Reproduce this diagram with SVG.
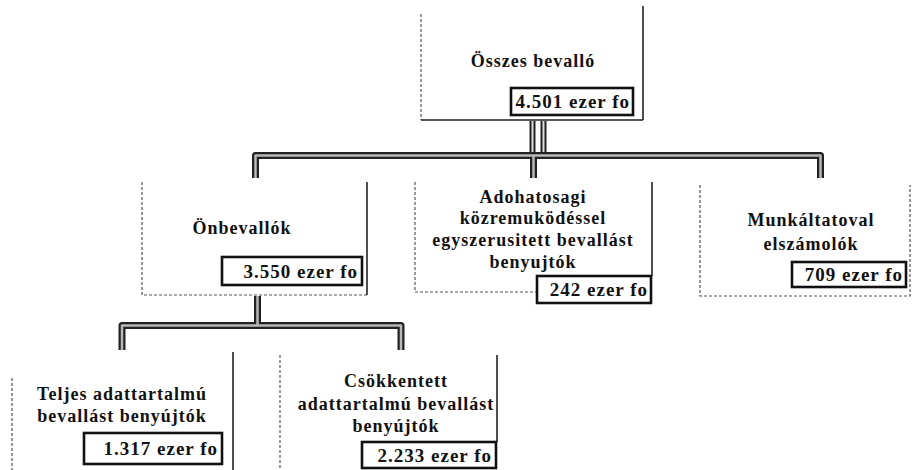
<svg xmlns="http://www.w3.org/2000/svg" width="912" height="470" viewBox="0 0 912 470">
<style>
.bg{fill:#fff}
.ed{fill:none;stroke:#555;stroke-width:1.2;stroke-dasharray:3 2}
.es{fill:none;stroke:#222;stroke-width:1.6}
.vb{fill:#fff;stroke:#111;stroke-width:2.6}
.t{font-family:"Liberation Serif","Times New Roman",serif;font-weight:bold;font-size:18px;letter-spacing:1px;fill:#111;text-anchor:middle}
.v{font-family:"Liberation Serif","Times New Roman",serif;font-weight:bold;font-size:19px;letter-spacing:1px;fill:#111;text-anchor:end}
.po{fill:none;stroke:#222;stroke-width:7;stroke-linejoin:round}
.pi{fill:none;stroke:#b8b8b8;stroke-width:2.5;stroke-linejoin:round}
.so{fill:none;stroke:#222;stroke-width:6}
.si{fill:none;stroke:#ddd;stroke-width:2}
</style>
<rect class="bg" x="0" y="0" width="912" height="470"/>
<g id="connectors">
<path class="so" d="M532.5 121 V155"/>
<path class="si" d="M532.5 121 V155"/>
<path class="so" d="M543.5 121 V155"/>
<path class="si" d="M543.5 121 V155"/>
<path class="po" d="M255.5 178 V155.5 H820.5 V178 M533.5 155.5 V178"/>
<path class="pi" d="M255.5 178 V155.5 H820.5 V178 M533.5 155.5 V178"/>
<path class="po" d="M257.5 296 V325.5 M122 350 V325.5 H401 V350"/>
<path class="pi" d="M257.5 296 V325.5 M122 350 V325.5 H401 V350"/>
</g>
<g id="node-osszes">
<path class="ed" d="M421 14 V120"/>
<path class="es" d="M421 120 H643 M643 6 V120"/>
<text class="t" x="533" y="67">Összes bevalló</text>
<rect class="vb" x="511" y="88" width="122" height="27"/>
<text class="v" x="630" y="108">4.501 ezer  fo</text>
</g>
<g id="node-onbevallok">
<path class="ed" d="M142 182 V295 H367"/>
<path class="es" d="M367 182 V295"/>
<text class="t" x="242" y="234">Önbevallók</text>
<rect class="vb" x="222" y="257" width="140" height="28"/>
<text class="v" x="358" y="278">3.550 ezer  fo</text>
</g>
<g id="node-adohatosagi">
<path class="ed" d="M415 182 V292 H537"/>
<path class="es" d="M652 182 V276"/>
<text class="t" x="533" y="203">Adohatosagi</text>
<text class="t" x="533" y="224">közremuködéssel</text>
<text class="t" x="533" y="246">egyszerusitett bevallást</text>
<text class="t" x="533" y="268">benyujtók</text>
<rect class="vb" x="537" y="276" width="114" height="27"/>
<text class="v" x="648" y="296">242 ezer  fo</text>
</g>
<g id="node-munkaltatoval">
<path class="ed" d="M700 185 V296 H910 V185"/>
<text class="t" x="811" y="226">Munkáltatoval</text>
<text class="t" x="811" y="250">elszámolók</text>
<rect class="vb" x="792" y="262" width="114" height="25"/>
<text class="v" x="903" y="281">709 ezer  fo</text>
</g>
<g id="node-teljes">
<path class="ed" d="M12 378 V470"/>
<path class="es" d="M233 352 V470"/>
<text class="t" x="122" y="400">Teljes adattartalmú</text>
<text class="t" x="122" y="422">bevallást benyújtók</text>
<rect class="vb" x="84" y="433" width="138" height="31"/>
<text class="v" x="218" y="455">1.317 ezer  fo</text>
</g>
<g id="node-csokkentett">
<path class="ed" d="M280 355 V470"/>
<path class="es" d="M497 355 V442"/>
<text class="t" x="396" y="387">Csökkentett</text>
<text class="t" x="396" y="410">adattartalmú bevallást</text>
<text class="t" x="396" y="432">benyújtók</text>
<rect class="vb" x="362" y="442" width="134" height="26"/>
<text class="v" x="492" y="462">2.233 ezer  fo</text>
</g>
</svg>
